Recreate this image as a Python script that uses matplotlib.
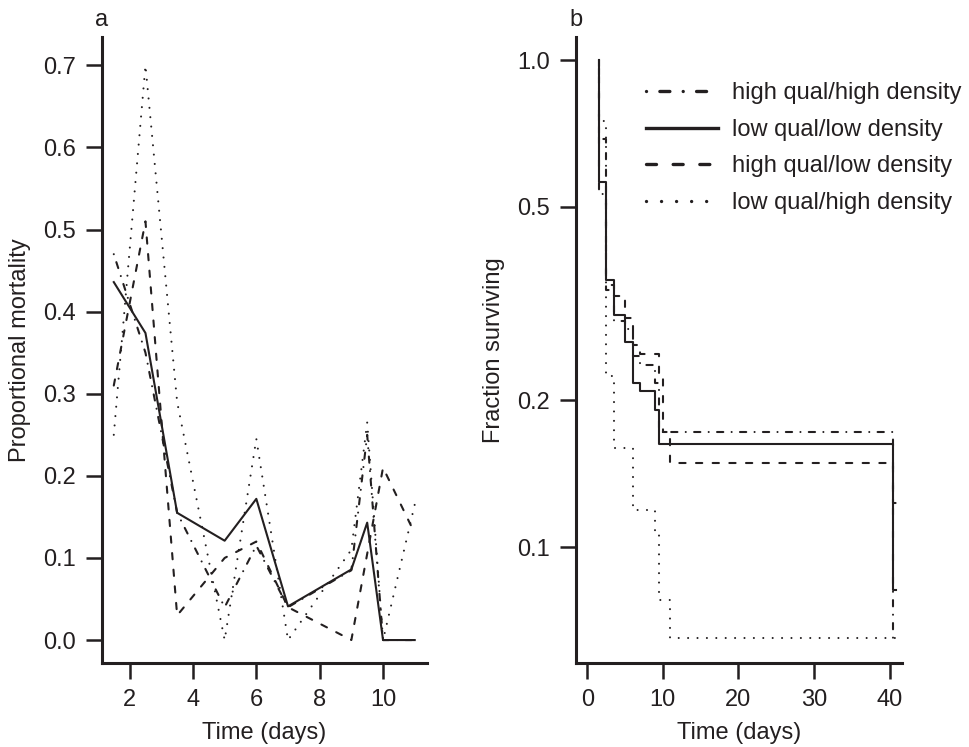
import numpy as np
import matplotlib
matplotlib.use('Agg')
import matplotlib.pyplot as plt
from matplotlib.ticker import FixedLocator, NullLocator

plt.rcParams['font.family'] = ['Liberation Sans', 'DejaVu Sans']

# panel a: proportional mortality per interval
days = [1.5, 2.5, 3.5, 5, 6, 7, 9, 9.5, 10, 11]
mort_hh = [0.47, 0.35, 0.155, 0.04, 0.115, 0.04, 0.085, 0.25, 0.0, 0.0]
mort_ll = [0.436, 0.374, 0.155, 0.121, 0.172, 0.041, 0.086, 0.143, 0.0, 0.0]
mort_hl = [0.31, 0.51, 0.03, 0.10, 0.12, 0.04, 0.0, 0.105, 0.21, 0.13]
mort_lh = [0.25, 0.70, 0.29, 0.0, 0.245, 0.0, 0.11, 0.265, 0.0, 0.165]

# panel b: fraction surviving (step curves)
surv_times = [1.5, 2.5, 3.5, 5, 6, 7, 9, 9.5, 10, 11, 40.4]
end_time = 40.9
surv_hh = [0.53, 0.345, 0.291, 0.28, 0.247, 0.237, 0.217, 0.172, 0.172, 0.172, 0.0646]
surv_ll = [0.563, 0.353, 0.299, 0.264, 0.217, 0.209, 0.191, 0.163, 0.163, 0.163, 0.0817]
surv_hl = [0.69, 0.338, 0.328, 0.295, 0.26, 0.249, 0.249, 0.223, 0.172, 0.149, 0.123]
surv_lh = [0.75, 0.225, 0.16, 0.16, 0.119, 0.119, 0.107, 0.078, 0.078, 0.065, 0.065]

labels = ['high qual/high density', 'low qual/low density',
          'high qual/low density', 'low qual/high density']

ink = '#231f20'
lw = 1.5
# R-like line types: dotdash, solid, dashed, dotted (round caps)
styles = [(0, (0.01, 4, 3, 4)), '-', (0, (3, 5)), (0, (0.01, 4.5))]

fig = plt.figure(figsize=(9.69, 7.47), dpi=100)
axa = fig.add_axes([0.105, 0.1124, 0.3354, 0.838])
axb = fig.add_axes([0.5944, 0.1124, 0.3361, 0.838])

for m, ls in zip([mort_hh, mort_ll, mort_hl, mort_lh], styles):
    axa.plot(days, m, color=ink, lw=lw, linestyle=ls, dash_capstyle='round')

handles = []
for s, ls in zip([surv_hh, surv_ll, surv_hl, surv_lh], styles):
    x = np.r_[surv_times, end_time]
    y = np.r_[1.0, s]
    h, = axb.step(x, y, where='pre', color=ink, lw=lw, linestyle=ls,
                  dash_capstyle='round')
    handles.append(h)

axa.set_xlim(1.12, 11.38)
axa.set_ylim(-0.028, 0.7345)
axa.xaxis.set_major_locator(FixedLocator([2, 4, 6, 8, 10]))
axa.set_yticks(np.arange(0, 0.71, 0.1))
axa.set_yticklabels(['%.1f' % v for v in np.arange(0, 0.71, 0.1)])
axa.set_xlabel('Time (days)', fontsize=17, color=ink, labelpad=8)
axa.set_ylabel('Proportional mortality', fontsize=17, color=ink, labelpad=9)

axb.set_yscale('log')
axb.set_xlim(-1.5, 41.6)
axb.set_ylim(0.0578, 1.115)
axb.xaxis.set_major_locator(FixedLocator([0, 10, 20, 30, 40]))
axb.yaxis.set_major_locator(FixedLocator([0.1, 0.2, 0.5, 1.0]))
axb.yaxis.set_minor_locator(NullLocator())
axb.set_yticklabels(['0.1', '0.2', '0.5', '1.0'])
axb.set_xlabel('Time (days)', fontsize=17, color=ink, labelpad=8)
axb.set_ylabel('Fraction surviving', fontsize=17, color=ink, labelpad=9)

for ax, tag in [(axa, 'a'), (axb, 'b')]:
    for side in ['top', 'right']:
        ax.spines[side].set_visible(False)
    for side in ['left', 'bottom']:
        ax.spines[side].set_linewidth(2.2)
        ax.spines[side].set_color(ink)
    ax.tick_params(direction='out', length=11.5, width=1.8, pad=7,
                   labelsize=17, color=ink, labelcolor=ink)
    ax.annotate(tag, xy=(0, 1), xycoords='axes fraction', xytext=(0, 8),
                textcoords='offset points', ha='center', va='baseline',
                fontsize=17, color=ink)

leg = axb.legend(handles, labels, loc='upper left',
                 bbox_to_anchor=(0.6667, 0.890), bbox_transform=fig.transFigure,
                 frameon=False, fontsize=17, handlelength=3.05,
                 handletextpad=0.6, labelspacing=0.62, borderpad=0,
                 borderaxespad=0)
for h in leg.legend_handles:
    h.set_linewidth(2.4)
for t in leg.get_texts():
    t.set_color(ink)

fig.savefig('out.png', dpi=100)
